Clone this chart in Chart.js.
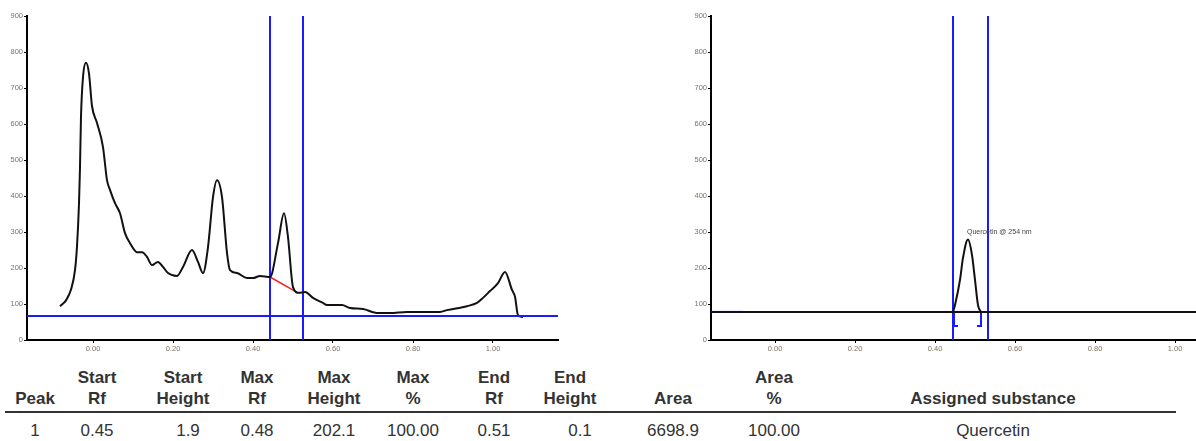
<!DOCTYPE html>
<html>
<head>
<meta charset="utf-8">
<script src="https://cdn.jsdelivr.net/npm/chart.js@4/dist/chart.umd.min.js"></script>
<style>
  body { margin: 0; background: #fff; width: 1196px; height: 441px; overflow: hidden; position: relative; font-family: "Liberation Sans", Arial, sans-serif; }
  #wrapLeft { position: absolute; left: 0; top: 0; width: 560px; height: 360px; }
  #wrapRight { position: absolute; left: 684px; top: 0; width: 512px; height: 360px; }
  .hdr { position: absolute; font-weight: bold; font-size: 17px; color: #333; text-align: center; line-height: 21px; transform: translateX(-50%); white-space: nowrap; }
  .cell { position: absolute; font-size: 17px; color: #333; text-align: center; transform: translateX(-50%); white-space: nowrap; top: 421px; }
  #rule { position: absolute; left: 5px; top: 411px; width: 1171px; height: 2px; background: #333; }
</style>
</head>
<body>
<div id="wrapLeft"><canvas id="chartLeft"></canvas></div>
<div id="wrapRight"><canvas id="chartRight"></canvas></div>
<div id="rule"></div>
<div id="table"></div>
<script>
// densitogram of the sample track (Rf, height)
const sampleRf = [-0.0825, -0.0675, -0.055, -0.045, -0.04, -0.035, -0.0325, -0.03, -0.025, -0.0175,
  -0.01, -0.0025, 0.01, 0.025, 0.035, 0.0425, 0.055, 0.0675, 0.08, 0.0925,
  0.11, 0.1225, 0.135, 0.1475, 0.1625, 0.175, 0.1875, 0.21, 0.225, 0.2475,
  0.2625, 0.275, 0.2875, 0.3, 0.31, 0.3225, 0.335, 0.3425, 0.36, 0.385,
  0.4, 0.4175, 0.4425, 0.4625, 0.4775, 0.4875, 0.5, 0.515, 0.53, 0.55,
  0.575, 0.585, 0.6225, 0.6425, 0.675, 0.7125, 0.7425, 0.785, 0.8675, 0.885,
  0.935, 0.96, 0.975, 0.9925, 1.0125, 1.03, 1.0475, 1.055, 1.0625, 1.075];
const sampleHeight = [94, 110, 140, 194, 260, 380, 480, 620, 730, 770,
  740, 650, 603, 536, 444, 417, 380, 352, 297, 269,
  244, 244, 231, 208, 217, 203, 186, 178, 203, 250,
  217, 186, 258, 397, 444, 397, 242, 194, 186, 172,
  172, 178, 175, 269, 352, 286, 147, 131, 133, 117,
  103, 97, 97, 89, 86, 75, 75, 78, 78, 83,
  94, 103, 117, 136, 158, 189, 139, 120, 69, 64];
// standard track: Quercetin peak
const stdRf = [0.445, 0.45, 0.4625, 0.47, 0.4825, 0.4925, 0.5, 0.5075, 0.515];
const stdHeight = [78, 97, 167, 228, 279, 236, 167, 97, 78];

const yTicks = [0, 100, 200, 300, 400, 500, 600, 700, 800, 900];
const xTicks = [0.00, 0.20, 0.40, 0.60, 0.80, 1.00];

// integration window and baselines
const leftWindow = [0.4425, 0.525];
const leftBaseline = 66.7;
const leftPeakBase = [[0.4425, 175], [0.5125, 131]];
const rightWindow = [0.445, 0.5325];
const rightBaseline = 78;
const rightBlueEnd = -0.08;
const rightBracket = [0.4475, 0.515];
const peakLabel = 'Quercetin @ 254 nm';

// table
const tableHeaders = [['', 'Peak'], ['Start', 'Rf'], ['Start', 'Height'], ['Max', 'Rf'], ['Max', 'Height'], ['Max', '%'],
  ['End', 'Rf'], ['End', 'Height'], ['', 'Area'], ['Area', '%'], ['', 'Assigned substance']];
const tableRow = ['1', '0.45', '1.9', '0.48', '202.1', '100.00', '0.51', '0.1', '6698.9', '100.00', 'Quercetin'];

const colX = [35, 97, 183, 257, 334, 413, 494, 570, 673, 774, 993];
const rowCellX = [35, 97, 188, 257, 334, 413, 494, 580, 673, 774, 993];

const blue = '#1a1aff';
const tickFont = { family: 'Liberation Sans', size: 7.5 };
const tickColor = '#7f705f';

function pts(xs, ys) { return xs.map((x, i) => ({ x: x, y: ys[i] })); }
function seg(x0, y0, x1, y1, color, w) {
  return { data: [{ x: x0, y: y0 }, { x: x1, y: y1 }], borderColor: color, borderWidth: w, pointRadius: 0, tension: 0 };
}

function makeScales(xmin, xmax) {
  return {
    x: {
      type: 'linear', min: xmin, max: xmax,
      afterBuildTicks: (s) => { s.ticks = xTicks.map(v => ({ value: v })); },
      afterFit: (s) => { s.height = 20; },
      grid: { drawOnChartArea: false, drawTicks: true, tickLength: 3, color: '#000' },
      border: { display: true, color: '#000', width: 2 },
      ticks: { font: tickFont, color: tickColor, padding: 1, maxRotation: 0, autoSkip: false, callback: v => v.toFixed(2) }
    },
    y: {
      min: 0, max: 900,
      afterBuildTicks: (s) => { s.ticks = yTicks.map(v => ({ value: v })); },
      afterFit: (s) => { s.width = 27; },
      grid: { drawOnChartArea: false, drawTicks: true, tickLength: 3, color: '#000' },
      border: { display: true, color: '#000', width: 2 },
      ticks: { font: tickFont, color: tickColor, padding: 1 }
    }
  };
}

const baseOpts = {
  responsive: true, maintainAspectRatio: false, animation: false,
  plugins: { legend: { display: false }, tooltip: { enabled: false } },
  elements: { point: { radius: 0 } }
};

new Chart(document.getElementById('chartLeft'), {
  type: 'line',
  data: {
    datasets: [
      seg(-0.165, leftBaseline, 1.1625, leftBaseline, blue, 2),
      { data: pts(sampleRf, sampleHeight), borderColor: '#111', borderWidth: 2, pointRadius: 0, cubicInterpolationMode: 'monotone' },
      seg(leftPeakBase[0][0], leftPeakBase[0][1], leftPeakBase[1][0], leftPeakBase[1][1], '#ff2020', 1.5),
      seg(leftWindow[0], 0, leftWindow[0], 900, blue, 2),
      seg(leftWindow[1], 0, leftWindow[1], 900, blue, 2)
    ]
  },
  options: Object.assign({}, baseOpts, {
    layout: { padding: { top: 16, right: 2, left: 0, bottom: 0 } },
    scales: makeScales(-0.165, 1.1625)
  })
});

const labelPlugin = {
  id: 'peakLabel',
  afterDatasetsDraw(chart) {
    const ctx = chart.ctx;
    const x = chart.scales.x.getPixelForValue(0.48);
    const y = chart.scales.y.getPixelForValue(290);
    ctx.save();
    ctx.font = '7px "Liberation Sans"';
    ctx.fillStyle = '#444';
    ctx.textBaseline = 'bottom';
    ctx.fillText(peakLabel, x, y);
    ctx.restore();
  }
};

new Chart(document.getElementById('chartRight'), {
  type: 'line',
  data: {
    datasets: [
      seg(-0.16, rightBaseline, 1.0525, rightBaseline, '#111', 2),
      seg(-0.16, rightBaseline, rightBlueEnd, rightBaseline, blue, 2),
      seg(rightBracket[0], rightBaseline, rightBracket[1], rightBaseline, blue, 2),
      { data: [{ x: rightBracket[0] + 0.01, y: 39 }, { x: rightBracket[0], y: 39 }, { x: rightBracket[0], y: rightBaseline }],
        borderColor: blue, borderWidth: 2, pointRadius: 0, tension: 0 },
      { data: [{ x: rightBracket[1] - 0.01, y: 39 }, { x: rightBracket[1], y: 39 }, { x: rightBracket[1], y: rightBaseline }],
        borderColor: blue, borderWidth: 2, pointRadius: 0, tension: 0 },
      { data: pts(stdRf, stdHeight), borderColor: '#111', borderWidth: 2, pointRadius: 0, cubicInterpolationMode: 'monotone' },
      seg(rightWindow[0], 0, rightWindow[0], 900, blue, 2),
      seg(rightWindow[1], 0, rightWindow[1], 900, blue, 2)
    ]
  },
  options: Object.assign({}, baseOpts, {
    layout: { padding: { top: 16, right: 0, left: 0, bottom: 0 } },
    scales: makeScales(-0.16, 1.0525)
  }),
  plugins: [labelPlugin]
});

// results table
const table = document.getElementById('table');
tableHeaders.forEach((h, i) => {
  const d = document.createElement('div');
  d.className = 'hdr';
  d.style.left = colX[i] + 'px';
  d.style.top = '367px';
  d.innerHTML = (h[0] || '&nbsp;') + '<br>' + h[1];
  table.appendChild(d);
});
tableRow.forEach((t, i) => {
  const d = document.createElement('div');
  d.className = 'cell';
  d.style.left = rowCellX[i] + 'px';
  d.textContent = t;
  table.appendChild(d);
});
</script>
</body>
</html>
